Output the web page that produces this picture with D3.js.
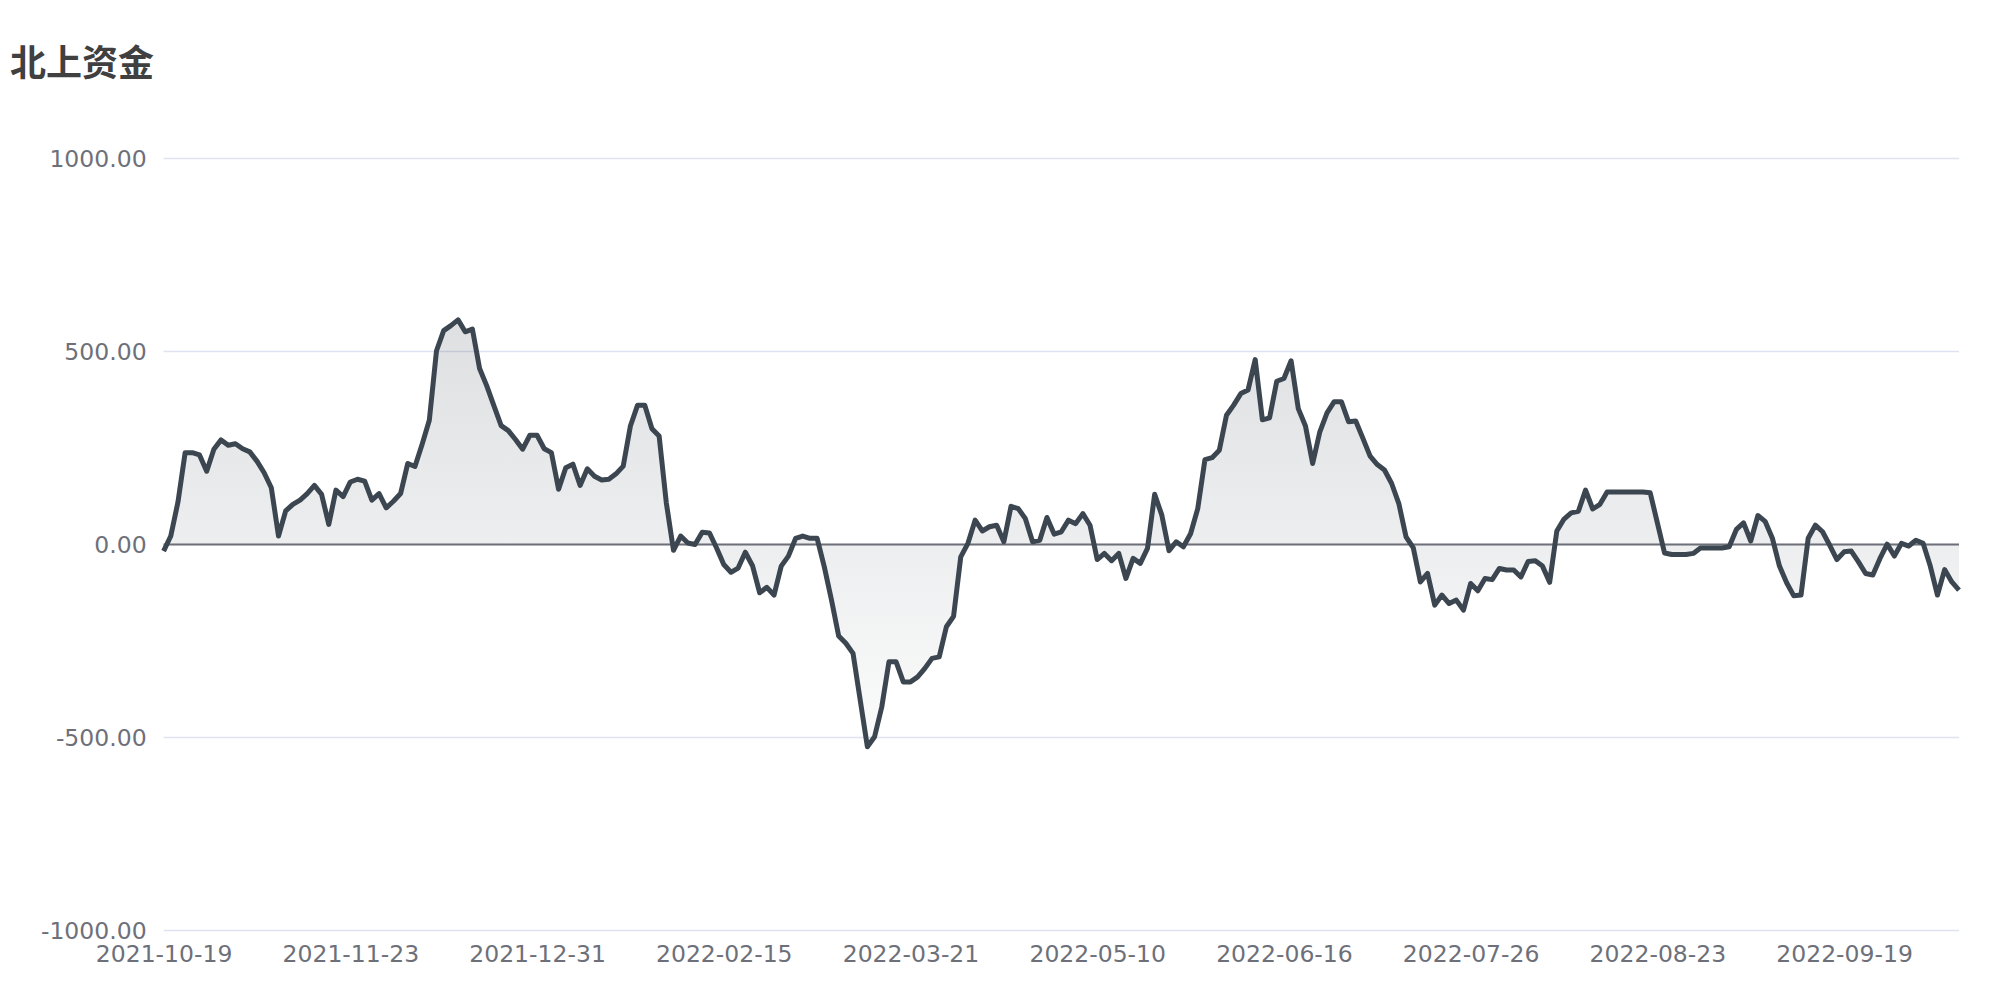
<!DOCTYPE html>
<html>
<head>
<meta charset="utf-8">
<script src="https://cdn.jsdelivr.net/npm/d3@7"></script>
<style>
  html, body { margin: 0; padding: 0; background: #ffffff; }
  svg { display: block; }
</style>
</head>
<body>
<svg id="chart" width="2000" height="1000"></svg>
<script>
const title = "北上资金";

const tickLabels = ["2021-10-19", "2021-11-23", "2021-12-31", "2022-02-15", "2022-03-21",
                    "2022-05-10", "2022-06-16", "2022-07-26", "2022-08-23", "2022-09-19"];

const yTicks = [-1000, -500, 0, 500, 1000];

const values = [
  -17, 22, 110, 238, 238, 232, 190, 247, 271, 257,
  261, 248, 240, 216, 186, 147, 22, 87, 104, 115,
  132, 153, 130, 52, 141, 124, 162, 169, 164, 115,
  132, 95, 112, 132, 210, 202, 260, 322, 502, 554,
  567, 582, 551, 558, 456, 411, 359, 308, 295, 272,
  247, 283, 283, 248, 238, 143, 199, 208, 153, 196,
  177, 167, 169, 183, 203, 307, 361, 361, 300, 281,
  108, -15, 22, 4, 0, 32, 30, -9, -52, -72,
  -61, -20, -55, -125, -111, -131, -56, -30, 16, 22,
  16, 16, -58, -144, -237, -256, -282, -403, -524, -498,
  -421, -304, -304, -356, -356, -343, -321, -295, -291, -213,
  -186, -32, 3, 63, 35, 46, 50, 7, 99, 93,
  67, 7, 11, 70, 27, 33, 63, 54, 80, 50,
  -39, -23, -42, -23, -88, -36, -49, -10, 130, 76,
  -16, 7, -6, 28, 93, 220, 225, 244, 335, 361,
  391, 400, 479, 323, 328, 423, 430, 476, 352, 307,
  210, 292, 341, 370, 370, 318, 320, 275, 229, 207,
  193, 158, 106, 20, -8, -97, -75, -157, -131, -153,
  -144, -170, -101, -120, -88, -91, -62, -66, -66, -84,
  -44, -42, -56, -98, 35, 66, 82, 86, 141, 92,
  104, 136, 136, 136, 136, 136, 136, 134, 56, -22,
  -26, -26, -26, -23, -9, -9, -9, -9, -6, 39,
  56, 9, 75, 60, 17, -56, -99, -133, -131, 16,
  50, 33, -2, -39, -19, -17, -45, -75, -79, -36,
  1, -30, 3, -4, 11, 3, -56, -131, -65, -97,
  -118
];

const labelStep = 26;

const svg = d3.select("#chart");
const plotLeft = 163.6, plotRight = 1959, plotTop = 158.5, plotBottom = 930.5;

const x = d3.scaleLinear().domain([0, values.length - 1]).range([plotLeft, plotRight]);
const y = d3.scaleLinear().domain([-1000, 1000]).range([plotBottom, plotTop]);

// title
svg.append("text")
  .attr("x", 10)
  .attr("y", 60)
  .attr("dominant-baseline", "central")
  .style("font-family", "'Noto Sans CJK SC', sans-serif")
  .style("font-weight", "bold")
  .style("font-size", "36px")
  .style("fill", "#404040")
  .text(title);

// grid lines
svg.append("g")
  .selectAll("line")
  .data(yTicks)
  .join("line")
  .attr("x1", plotLeft).attr("x2", plotRight)
  .attr("y1", d => y(d)).attr("y2", d => y(d))
  .attr("stroke", "#dfe2f0")
  .attr("stroke-width", 1.5);

const fmt = d3.format(".2f");
const yFormat = d => fmt(d).replace("\u2212", "-");

// y axis labels
const yAxis = svg.append("g")
  .attr("transform", `translate(${plotLeft},0)`)
  .call(d3.axisLeft(y).tickValues(yTicks).tickFormat(yFormat).tickSize(0).tickPadding(17));
yAxis.select(".domain").remove();
yAxis.selectAll("text")
  .style("font-family", "'DejaVu Sans', sans-serif")
  .style("font-size", "23.5px")
  .style("fill", "#6e7079");

// x axis labels
const xAxis = svg.append("g")
  .attr("transform", `translate(0,${plotBottom})`)
  .call(d3.axisBottom(x)
    .tickValues(d3.range(0, values.length, labelStep))
    .tickFormat(i => tickLabels[i / labelStep] || "")
    .tickSize(0).tickPadding(15));
xAxis.select(".domain").remove();
xAxis.selectAll("text")
  .style("font-family", "'DejaVu Sans', sans-serif")
  .style("font-size", "23.5px")
  .style("fill", "#6e7079");

// gradient
const defs = svg.append("defs");
const grad = defs.append("linearGradient")
  .attr("id", "areaGrad")
  .attr("x1", 0).attr("y1", 0).attr("x2", 0).attr("y2", 1);
grad.append("stop").attr("offset", "0%").attr("stop-color", "rgb(61,70,81)").attr("stop-opacity", 0.17);
grad.append("stop").attr("offset", "100%").attr("stop-color", "rgb(61,70,81)").attr("stop-opacity", 0.02);

const area = d3.area()
  .x((d, i) => x(i))
  .y0(y(0))
  .y1(d => y(d));

svg.append("path")
  .datum(values)
  .attr("d", area)
  .attr("fill", "url(#areaGrad)");

// zero axis line
svg.append("line")
  .attr("x1", plotLeft).attr("x2", plotRight)
  .attr("y1", y(0)).attr("y2", y(0))
  .attr("stroke", "#6e7079")
  .attr("stroke-width", 2);

const line = d3.line()
  .x((d, i) => x(i))
  .y(d => y(d));

svg.append("path")
  .datum(values)
  .attr("d", line)
  .attr("fill", "none")
  .attr("stroke", "#3c4650")
  .attr("stroke-width", 5)
  .attr("stroke-linejoin", "round")
  .attr("stroke-linecap", "butt");
</script>
</body>
</html>
